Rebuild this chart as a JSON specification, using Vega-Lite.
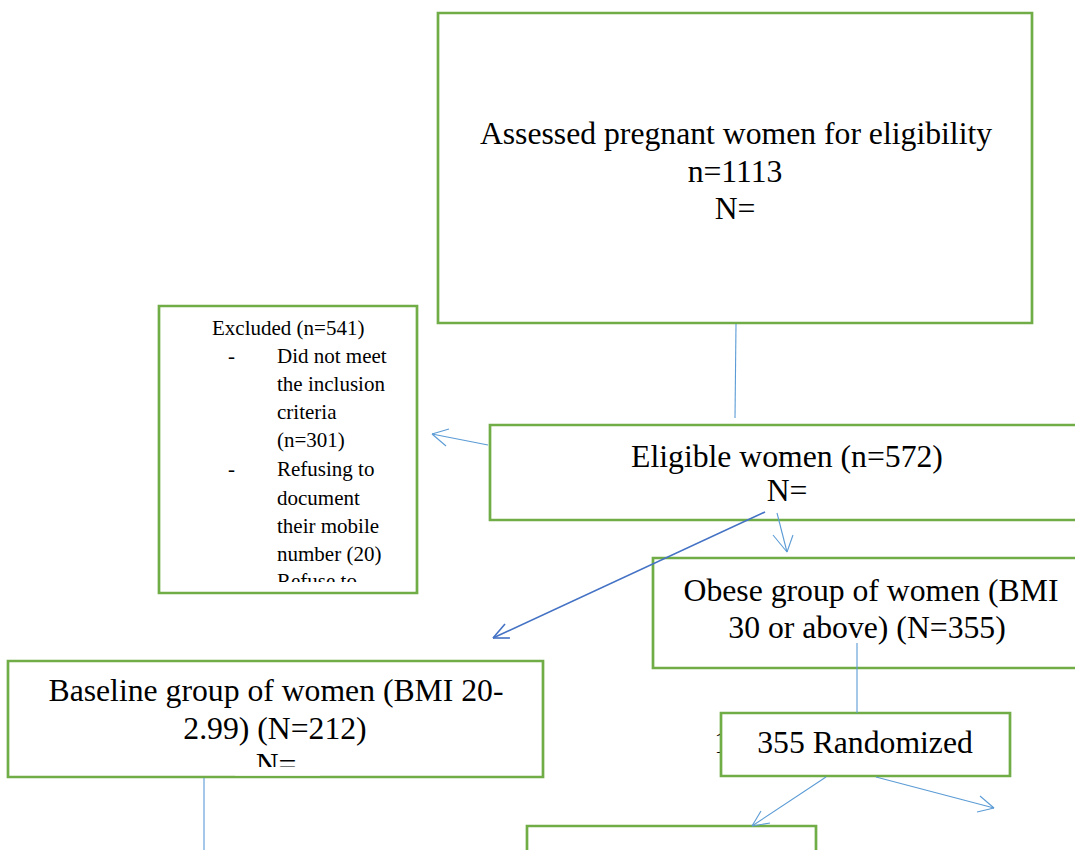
{
  "$schema": "https://vega.github.io/schema/vega-lite/v6.json",
  "width": 1075,
  "height": 850,
  "padding": 0,
  "autosize": {"type": "none"},
  "background": "white",
  "config": {"view": {"stroke": null}, "text": {"font": "Liberation Serif, Times New Roman, DejaVu Serif, serif"}},
  "datasets": {
    "hidden": [{"x": 714, "y": 753, "label": "1"}],
    "boxes": [
      {"id": "assessed", "x": 438, "x2": 1032, "y": 13, "y2": 323},
      {"id": "excluded", "x": 159, "x2": 417, "y": 306, "y2": 593},
      {"id": "eligible", "x": 490, "x2": 1090, "y": 425, "y2": 520},
      {"id": "obese", "x": 653, "x2": 1090, "y": 558, "y2": 668},
      {"id": "baseline", "x": 8, "x2": 543, "y": 661, "y2": 777},
      {"id": "randomized", "x": 721, "x2": 1010, "y": 713, "y2": 776},
      {"id": "arm", "x": 527, "x2": 816, "y": 826, "y2": 870}
    ],
    "bigText": [
      {"x": 736, "y": 144, "label": "Assessed pregnant women for eligibility"},
      {"x": 735, "y": 182, "label": "n=1113"},
      {"x": 735, "y": 219, "label": "N="},
      {"x": 787, "y": 467, "label": "Eligible women (n=572)"},
      {"x": 787, "y": 501, "label": "N="},
      {"x": 871, "y": 601, "label": "Obese group of women (BMI"},
      {"x": 867, "y": 638, "label": "30 or above) (N=355)"},
      {"x": 276, "y": 701, "label": "Baseline group of women (BMI 20-"},
      {"x": 275, "y": 739, "label": "2.99) (N=212)"},
      {"x": 276, "y": 774.5, "label": "N="},
      {"x": 865, "y": 753, "label": "355 Randomized"}
    ],
    "smallText": [
      {"x": 212, "y": 335, "label": "Excluded (n=541)"},
      {"x": 228, "y": 363, "label": "-"},
      {"x": 277, "y": 363, "label": "Did not meet"},
      {"x": 277, "y": 391, "label": "the inclusion"},
      {"x": 277, "y": 419, "label": "criteria"},
      {"x": 277, "y": 447, "label": "(n=301)"},
      {"x": 228, "y": 476, "label": "-"},
      {"x": 277, "y": 476, "label": "Refusing to"},
      {"x": 277, "y": 505, "label": "document"},
      {"x": 277, "y": 533, "label": "their mobile"},
      {"x": 277, "y": 561, "label": "number (20)"},
      {"x": 277, "y": 588, "label": "Refuse to"}
    ],
    "masks": [
      {"x": 163, "x2": 413, "y": 582, "y2": 590.5},
      {"x": 235, "x2": 320, "y": 767, "y2": 775.6}
    ],
    "thinLines": [
      {"x": 736, "y": 324, "x2": 735, "y2": 418},
      {"x": 488, "y": 445, "x2": 432, "y2": 434},
      {"x": 432, "y": 434, "x2": 449, "y2": 429},
      {"x": 432, "y": 434, "x2": 446, "y2": 446},
      {"x": 777, "y": 513, "x2": 787, "y2": 552},
      {"x": 787, "y": 552, "x2": 773, "y2": 535},
      {"x": 787, "y": 552, "x2": 793, "y2": 535},
      {"x": 857, "y": 643, "x2": 857, "y2": 713},
      {"x": 204, "y": 778, "x2": 204, "y2": 850},
      {"x": 826, "y": 777, "x2": 752, "y2": 826},
      {"x": 752, "y": 826, "x2": 770, "y2": 823},
      {"x": 752, "y": 826, "x2": 761, "y2": 811},
      {"x": 876, "y": 777, "x2": 994, "y2": 808},
      {"x": 994, "y": 808, "x2": 980, "y2": 796},
      {"x": 994, "y": 808, "x2": 977, "y2": 812}
    ],
    "darkLines": [
      {"x": 765, "y": 512, "x2": 493, "y2": 638},
      {"x": 493, "y": 638, "x2": 510, "y2": 638},
      {"x": 493, "y": 638, "x2": 505, "y2": 624}
    ]
  },
  "layer": [
    {
      "data": {"name": "hidden"},
      "mark": {"type": "text", "fontSize": 31.7, "align": "left", "baseline": "alphabetic", "color": "black"},
      "encoding": {
        "x": {"field": "x", "type": "quantitative", "scale": {"domain": [0, 1075], "nice": false, "zero": false}, "axis": null},
        "y": {"field": "y", "type": "quantitative", "scale": {"domain": [0, 850], "nice": false, "zero": false, "reverse": true}, "axis": null},
        "text": {"field": "label"}
      }
    },
    {
      "data": {"name": "boxes"},
      "mark": {"type": "rect", "fill": "white", "stroke": "#70AD47", "strokeWidth": 2.7},
      "encoding": {
        "x": {"field": "x", "type": "quantitative", "scale": {"domain": [0, 1075], "nice": false, "zero": false}, "axis": null},
        "x2": {"field": "x2"},
        "y": {"field": "y", "type": "quantitative", "scale": {"domain": [0, 850], "nice": false, "zero": false, "reverse": true}, "axis": null},
        "y2": {"field": "y2"}
      }
    },
    {
      "data": {"name": "bigText"},
      "mark": {"type": "text", "fontSize": 31.7, "align": "center", "baseline": "alphabetic", "color": "black"},
      "encoding": {
        "x": {"field": "x", "type": "quantitative", "scale": {"domain": [0, 1075], "nice": false, "zero": false}, "axis": null},
        "y": {"field": "y", "type": "quantitative", "scale": {"domain": [0, 850], "nice": false, "zero": false, "reverse": true}, "axis": null},
        "text": {"field": "label"}
      }
    },
    {
      "data": {"name": "smallText"},
      "mark": {"type": "text", "fontSize": 21, "align": "left", "baseline": "alphabetic", "color": "black"},
      "encoding": {
        "x": {"field": "x", "type": "quantitative", "scale": {"domain": [0, 1075], "nice": false, "zero": false}, "axis": null},
        "y": {"field": "y", "type": "quantitative", "scale": {"domain": [0, 850], "nice": false, "zero": false, "reverse": true}, "axis": null},
        "text": {"field": "label"}
      }
    },
    {
      "data": {"name": "masks"},
      "mark": {"type": "rect", "fill": "white", "strokeWidth": 0},
      "encoding": {
        "x": {"field": "x", "type": "quantitative", "scale": {"domain": [0, 1075], "nice": false, "zero": false}, "axis": null},
        "x2": {"field": "x2"},
        "y": {"field": "y", "type": "quantitative", "scale": {"domain": [0, 850], "nice": false, "zero": false, "reverse": true}, "axis": null},
        "y2": {"field": "y2"}
      }
    },
    {
      "data": {"name": "thinLines"},
      "mark": {"type": "rule", "color": "#5B9BD5", "strokeWidth": 1.1},
      "encoding": {
        "x": {"field": "x", "type": "quantitative", "scale": {"domain": [0, 1075], "nice": false, "zero": false}, "axis": null},
        "x2": {"field": "x2"},
        "y": {"field": "y", "type": "quantitative", "scale": {"domain": [0, 850], "nice": false, "zero": false, "reverse": true}, "axis": null},
        "y2": {"field": "y2"}
      }
    },
    {
      "data": {"name": "darkLines"},
      "mark": {"type": "rule", "color": "#4472C4", "strokeWidth": 1.6},
      "encoding": {
        "x": {"field": "x", "type": "quantitative", "scale": {"domain": [0, 1075], "nice": false, "zero": false}, "axis": null},
        "x2": {"field": "x2"},
        "y": {"field": "y", "type": "quantitative", "scale": {"domain": [0, 850], "nice": false, "zero": false, "reverse": true}, "axis": null},
        "y2": {"field": "y2"}
      }
    }
  ]
}
